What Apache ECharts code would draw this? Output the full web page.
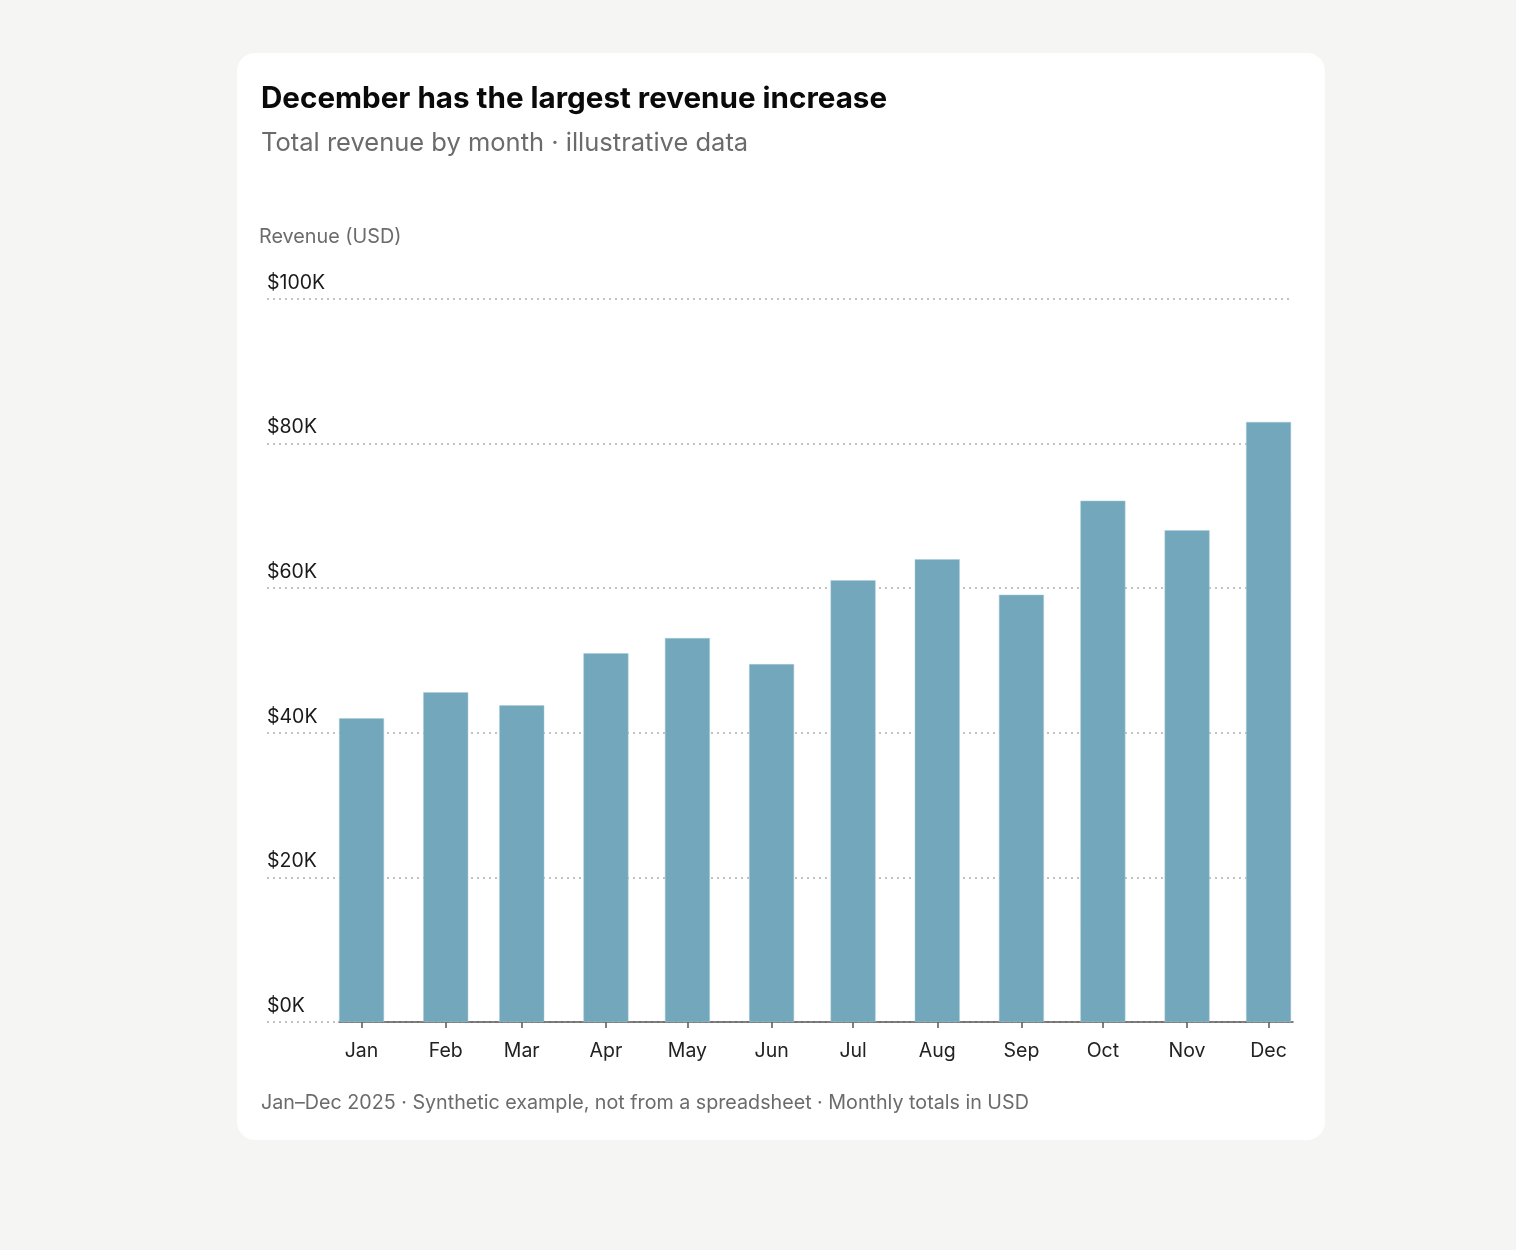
<!DOCTYPE html>
<html>
<head>
<meta charset="utf-8">
<script src="https://cdn.jsdelivr.net/npm/echarts@6/dist/echarts.min.js"></script>
<style>
  html, body { margin: 0; padding: 0; background: #f5f5f3; }
  #grafico { width: 1516px; height: 1250px; }
</style>
</head>
<body>
<div id="grafico"></div>
<script>
// data, revenue in thousands of USD
var months = ['Jan', 'Feb', 'Mar', 'Apr', 'May', 'Jun', 'Jul', 'Aug', 'Sep', 'Oct', 'Nov', 'Dec'];
var monthStarts = ['2025-01-01', '2025-02-01', '2025-03-01', '2025-04-01', '2025-05-01', '2025-06-01',
                   '2025-07-01', '2025-08-01', '2025-09-01', '2025-10-01', '2025-11-01', '2025-12-01'];
var revenue = [42.0, 45.6, 43.8, 51.0, 53.1, 49.5, 61.1, 64.0, 59.1, 72.1, 68.0, 83.0];
var yTicks = [0, 20, 40, 60, 80, 100];

var dom = document.getElementById('grafico');
var myChart = echarts.init(dom);

var oneDay = 24 * 3600 * 1000;
// month starts as timestamps (UTC) so the bars keep calendar spacing
var tickValues = monthStarts.map(function (d) { return Date.parse(d + 'T00:00:00Z'); });
var firstDay = tickValues[0];
var lastDay = tickValues[tickValues.length - 1];

var barData = [];
for (var i = 0; i < months.length; i++) {
    barData.push([tickValues[i], revenue[i]]);
}

var font = 'Inter, "Noto Sans", sans-serif';

var option = {
    backgroundColor: '#f5f5f3',
    textStyle: { fontFamily: font },
    animation: false,
    title: {
        text: 'December has the largest revenue increase',
        subtext: 'Total revenue by month \u00b7 illustrative data',
        left: 256,
        top: 79,
        itemGap: 16,
        textStyle: { fontFamily: font, fontSize: 29.6, fontWeight: 'bold', color: '#0a0a0a' },
        subtextStyle: { fontFamily: font, fontSize: 25.5, color: '#6b6b6b' }
    },
    graphic: [
        {
            type: 'rect', z: -10, silent: true,
            shape: { x: 237, y: 53, width: 1088, height: 1087, r: 18 },
            style: { fill: '#ffffff' }
        },
        {
            type: 'text', left: 259, top: 227, silent: true,
            style: { text: 'Revenue (USD)', font: '19.8px ' + font, fill: '#6b6b6b' }
        },
        {
            type: 'text', left: 261, top: 1093, silent: true,
            style: {
                text: 'Jan\u2013Dec 2025 \u00b7 Synthetic example, not from a spreadsheet \u00b7 Monthly totals in USD',
                font: '19.7px ' + font, fill: '#6b6b6b'
            }
        }
    ],
    grid: [
        { left: 267, right: 226, top: 299, bottom: 228 },
        { left: 339, right: 223, top: 299, bottom: 228 }
    ],
    xAxis: [
        { gridIndex: 0, type: 'value', show: false, min: 0, max: 1 },
        {
            gridIndex: 1,
            type: 'value',
            min: firstDay - 8.3 * oneDay,
            max: lastDay + 9.0 * oneDay,
            splitLine: { show: false },
            axisLine: { show: true, lineStyle: { color: '#555555', width: 1.5 } },
            axisTick: { show: true, customValues: tickValues, length: 6, lineStyle: { color: '#555555', width: 1.5 } },
            axisLabel: {
                customValues: tickValues,
                margin: 19,
                fontSize: 19.5,
                color: '#222222',
                fontFamily: font,
                formatter: function (v) {
                    return months[new Date(v).getUTCMonth()];
                }
            }
        }
    ],
    yAxis: [
        {
            gridIndex: 0,
            type: 'value',
            min: yTicks[0],
            max: yTicks[yTicks.length - 1],
            interval: 20,
            axisLine: { show: false },
            axisTick: { show: false },
            splitLine: { show: true, lineStyle: { color: '#b0b0b0', width: 1.5, type: [2, 4] } },
            axisLabel: {
                inside: true,
                margin: 0,
                align: 'left',
                verticalAlign: 'bottom',
                padding: [0, 0, 6, 0],
                fontSize: 19.5,
                color: '#1a1a1a',
                fontFamily: font,
                formatter: function (v) { return '$' + v + 'K'; }
            }
        },
        { gridIndex: 1, type: 'value', min: 0, max: 100, show: false }
    ],
    series: [{
        name: 'Revenue',
        type: 'bar',
        xAxisIndex: 1,
        yAxisIndex: 1,
        barWidth: 45,
        itemStyle: { color: '#72a7bc', borderColor: '#a8cad8', borderWidth: 0.5 },
        data: barData
    }]
};

if (option && typeof option === 'object') {
    myChart.setOption(option, true);
}
</script>
</body>
</html>
